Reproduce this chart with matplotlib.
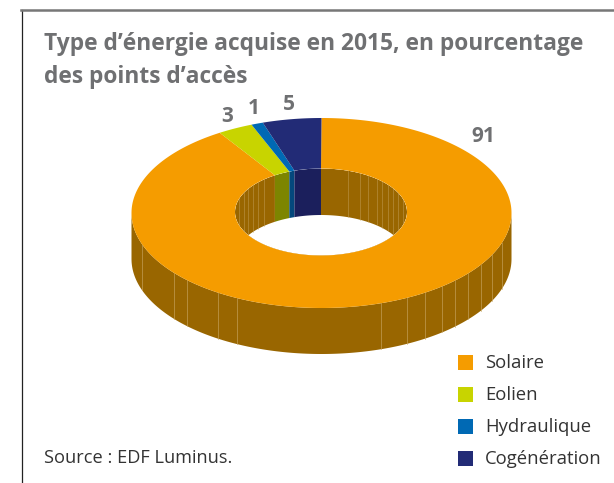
import numpy as np
import matplotlib
matplotlib.use("Agg")
import matplotlib.pyplot as plt
from matplotlib.patches import Polygon, Ellipse, Rectangle

categories = ["Solaire", "Eolien", "Hydraulique", "Cogénération"]
values = [91, 3, 1, 5]
top_colors = ["#F59C00", "#C8D400", "#0069B4", "#222B76"]
wall_colors = ["#996600", "#7D8500", "#04487C", "#1B1F5C"]
title_lines = ["Type d’énergie acquise en 2015, en pourcentage", "des points d’accès"]
source = "Source : EDF Luminus."

W, H = 614, 483
fig = plt.figure(figsize=(W/100, H/100), dpi=100)
ax = fig.add_axes([0, 0, 1, 1])
ax.set_xlim(0, W); ax.set_ylim(H, 0); ax.axis("off")

cx, cy = 321.5, 213
Rx, Ry = 190, 95
rx, ry = 86, 43.5
icx, icy = 321, 212
depth = 46.5
FONT = "Open Sans"
GREY = "#6F7072"

def pt(t, a, b, dy=0, x0=cx, y0=cy):
    # t: clockwise angle from 12 o'clock, radians
    return np.column_stack([x0 + a*np.sin(t), y0 - b*np.cos(t) + dy])

cum = np.cumsum([0] + values) / sum(values) * 2*np.pi
# order clockwise from the top: Solaire, Eolien, Hydraulique, Cogénération

# outer wall
t = np.linspace(np.pi/2, 3*np.pi/2, 300)
ax.add_patch(Polygon(np.vstack([pt(t, Rx, Ry), pt(t[::-1], Rx, Ry, 46)]),
                     fc=wall_colors[0], ec="none", zorder=1))
for x in [142, 174, 187, 218, 237, 381, 407, 425, 442, 455, 468, 481, 492, 502]:
    tt = np.arcsin((x - cx)/Rx)
    y0 = cy + Ry*np.cos(tt)
    ax.plot([x, x], [y0, y0+46], color="#C9A866", lw=0.6, alpha=.7, zorder=1.5)

# inner wall clipped by the hole
hole = Ellipse((icx, icy), 2*rx, 2*ry, fc="white", ec="none", zorder=2)
ax.add_patch(hole)
for i in range(len(values)):
    t = np.linspace(cum[i], cum[i+1], 200)
    wall = Polygon(np.vstack([pt(t, rx, ry, 0, icx, icy), pt(t[::-1], rx, ry, depth, icx, icy)]),
                   fc=wall_colors[i], ec="none", zorder=3)
    ax.add_patch(wall)
    wall.set_clip_path(hole)
for dx in [27, 39, 47, 56, 61, 67, 72, 77, 82, -82, -77, -73, -68, -63, -57]:
    tt = np.arcsin(dx/rx)
    y0 = icy - ry*np.cos(tt)
    l, = ax.plot([icx+dx, icx+dx], [y0, y0+depth], color="#C9A866", lw=0.5, alpha=.6, zorder=3.5)
    l.set_clip_path(hole)

# top ring
for i in range(len(values)):
    t = np.linspace(cum[i], cum[i+1], 400)
    ax.add_patch(Polygon(np.vstack([pt(t, Rx, Ry), pt(t[::-1], rx, ry, 0, icx, icy)]),
                         fc=top_colors[i], ec="none", zorder=4))

# frame
ax.plot([21.5, 21.5], [10, H], color="#222222", lw=0.9, zorder=6)
ax.plot([21, W], [10, 10], color="#777777", lw=1.8, zorder=6)

# title
for s, y in zip(title_lines, [44, 77]):
    ax.text(44, y, s, family=FONT, fontweight="bold", fontsize=16.4, color=GREY, ha="left", va="center")

# value labels
lab_xy = [(483, 137), (227, 116), (254, 108), (289, 105)]
for v, (x, y) in zip(values, lab_xy):
    ax.text(x, y, str(v), family=FONT, fontweight="bold", fontsize=15, color=GREY, ha="center", va="center")

# legend
for c, name, y in zip(top_colors, categories, [362, 394, 426, 458]):
    ax.add_patch(Rectangle((458, y-7.5), 15, 15, fc=c, ec="none"))
    ax.text(485, y+1.5, name, family=FONT, fontsize=13.3, color="#333333", ha="left", va="center")

ax.text(44, 458, source, family=FONT, fontsize=13.15, color="#333333", ha="left", va="center")
fig.savefig("out.png", dpi=100)
